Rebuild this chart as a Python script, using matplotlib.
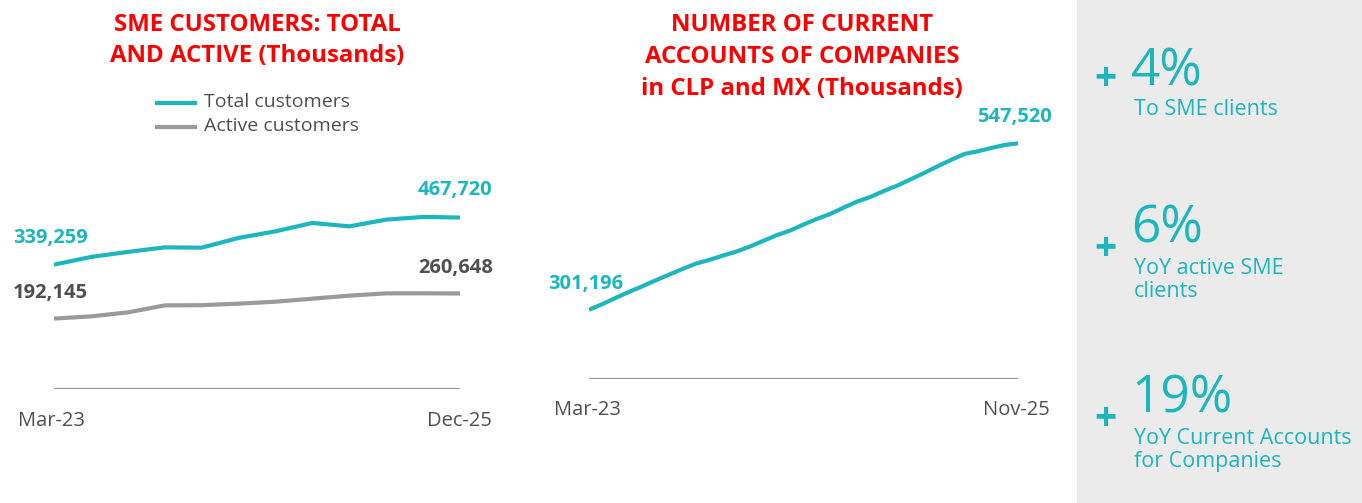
import matplotlib
matplotlib.use("Agg")
import matplotlib.pyplot as plt

W, H = 1362, 503
plt.rcParams['font.family'] = ['Open Sans', 'DejaVu Sans']

# ---------------- data ----------------
sme_quarters = ['Mar-23', 'Jun-23', 'Sep-23', 'Dec-23', 'Mar-24', 'Jun-24',
                'Sep-24', 'Dec-24', 'Mar-25', 'Jun-25', 'Sep-25', 'Dec-25']
total_customers = [339259, 360200, 373900, 386400, 385600, 412100,
                   430100, 453000, 443700, 462000, 469400, 467720]
active_customers = [192145, 198100, 209000, 228100, 228600, 232800,
                    238200, 246400, 254600, 260900, 261000, 260648]

acct_months = ['Mar-23', 'Apr-23', 'May-23', 'Jun-23', 'Jul-23', 'Aug-23', 'Sep-23',
               'Oct-23', 'Nov-23', 'Dec-23', 'Jan-24', 'Feb-24', 'Mar-24', 'Apr-24',
               'May-24', 'Jun-24', 'Jul-24', 'Aug-24', 'Sep-24', 'Oct-24', 'Nov-24',
               'Dec-24', 'Jan-25', 'Feb-25', 'Mar-25', 'Apr-25', 'May-25', 'Jun-25',
               'Jul-25', 'Aug-25', 'Sep-25', 'Oct-25', 'Nov-25']
current_accounts = [301196, 309570, 318930, 327800, 336170, 345040, 353410,
                    361790, 369670, 375090, 381490, 387400, 394790, 403160,
                    411540, 418430, 427300, 435680, 443070, 452420, 461290,
                    468190, 477050, 484940, 494300, 503650, 513510, 522870,
                    531730, 535670, 540600, 545030, 547520]

kpi_values = ['4%', '6%', '19%']
kpi_labels = ['To SME clients', 'YoY active SME\nclients', 'YoY Current Accounts\nfor Companies']

TEAL = '#1db6bf'
GRAY_LINE = '#9a9a9a'
DARK = '#505050'
RED = '#ff0000'

fig = plt.figure(figsize=(W / 100, H / 100), dpi=100)


def rect(x0, y0, x1, y1):
    return [x0 / W, 1 - y1 / H, (x1 - x0) / W, (y1 - y0) / H]


def fx(x):
    return x / W


def fy(y):
    return 1 - y / H


# gray side panel
fig.patches.append(plt.Rectangle((fx(1077), 0), 1 - fx(1077), 1, transform=fig.transFigure,
                                 facecolor='#ebebeb', edgecolor='none', zorder=0))

# ---------------- left chart ----------------
ax1 = fig.add_axes(rect(54, 150, 460, 389))
xs = list(range(len(sme_quarters)))
ax1.plot(xs, total_customers, color=TEAL, lw=3.0, solid_capstyle='butt')
ax1.plot(xs, active_customers, color=GRAY_LINE, lw=3.0, solid_capstyle='butt')
ax1.axhline(0, color=GRAY_LINE, lw=1.6)
ax1.set_xlim(0, len(xs) - 1)
ax1.set_ylim(0, 652000)
ax1.axis('off')
VFS = 14.5
ax1.annotate(f'{total_customers[0]:,}', (0, total_customers[0]), xytext=(-41, 17),
             textcoords='offset pixels', color=TEAL, fontsize=VFS, fontweight='bold',
             ha='left', va='bottom', annotation_clip=False)
ax1.annotate(f'{active_customers[0]:,}', (0, active_customers[0]), xytext=(-41, 16),
             textcoords='offset pixels', color=DARK, fontsize=VFS, fontweight='bold',
             ha='left', va='bottom', annotation_clip=False)
ax1.annotate(f'{total_customers[-1]:,}', (xs[-1], total_customers[-1]), xytext=(-42, 18),
             textcoords='offset pixels', color=TEAL, fontsize=VFS, fontweight='bold',
             ha='left', va='bottom', annotation_clip=False)
ax1.annotate(f'{active_customers[-1]:,}', (xs[-1], active_customers[-1]), xytext=(-42, 15),
             textcoords='offset pixels', color=DARK, fontsize=VFS, fontweight='bold',
             ha='left', va='bottom', annotation_clip=False)

fig.text(fx(51), fy(421), sme_quarters[0], color=DARK, fontsize=14.5, ha='center', va='center')
fig.text(fx(459), fy(421), sme_quarters[-1], color=DARK, fontsize=14.5, ha='center', va='center')

fig.text(fx(257), fy(40.5), 'SME CUSTOMERS: TOTAL\nAND ACTIVE (Thousands)', color=RED,
         fontsize=17.3, fontweight='bold', ha='center', va='center', linespacing=1.42)

# legend
fig.lines.append(plt.Line2D([fx(157), fx(195)], [fy(103), fy(103)], transform=fig.transFigure,
                            color=TEAL, lw=3.0))
fig.lines.append(plt.Line2D([fx(157), fx(195)], [fy(127), fy(127)], transform=fig.transFigure,
                            color=GRAY_LINE, lw=3.0))
fig.text(fx(204), fy(102), 'Total customers', color=DARK, fontsize=14, ha='left', va='center')
fig.text(fx(204), fy(126), 'Active customers', color=DARK, fontsize=14, ha='left', va='center')

# ---------------- right chart ----------------
ax2 = fig.add_axes(rect(589, 120, 1018, 379))
xs2 = list(range(len(acct_months)))
ax2.plot(xs2, current_accounts, color=TEAL, lw=3.0, solid_capstyle='butt')
ax2.axhline(198800, color=GRAY_LINE, lw=1.6)
ax2.set_xlim(0, len(xs2) - 1)
ax2.set_ylim(198800, 582000)
ax2.axis('off')
ax2.annotate(f'{current_accounts[0]:,}', (0, current_accounts[0]), xytext=(-41, 16),
             textcoords='offset pixels', color=TEAL, fontsize=VFS, fontweight='bold',
             ha='left', va='bottom', annotation_clip=False)
ax2.annotate(f'{current_accounts[-1]:,}', (xs2[-1], current_accounts[-1]), xytext=(-41, 16),
             textcoords='offset pixels', color=TEAL, fontsize=VFS, fontweight='bold',
             ha='left', va='bottom', annotation_clip=False)

fig.text(fx(587), fy(410), acct_months[0], color=DARK, fontsize=14.5, ha='center', va='center')
fig.text(fx(1016), fy(410), acct_months[-1], color=DARK, fontsize=14.5, ha='center', va='center')

fig.text(fx(802), fy(57), 'NUMBER OF CURRENT\nACCOUNTS OF COMPANIES\nin CLP and MX (Thousands)',
         color=RED, fontsize=17.3, fontweight='bold', ha='center', va='center', linespacing=1.42)

# ---------------- KPI panel ----------------
kpi_y = [72, 229, 399]
plus_y = [80, 250, 419]
label_y = [99, 258, 428]
for v, lab, y, py, ly in zip(kpi_values, kpi_labels, kpi_y, plus_y, label_y):
    fig.text(fx(1105), fy(py), '+', color=TEAL, fontsize=28, fontweight='bold',
             ha='center', va='center')
    fig.text(fx(1131), fy(y), v, color=TEAL, fontsize=37, ha='left', va='center')
    fig.text(fx(1134), fy(ly), lab, color=TEAL, fontsize=15.5, ha='left', va='top',
             linespacing=1.15)

fig.savefig('out.png', dpi=100)
